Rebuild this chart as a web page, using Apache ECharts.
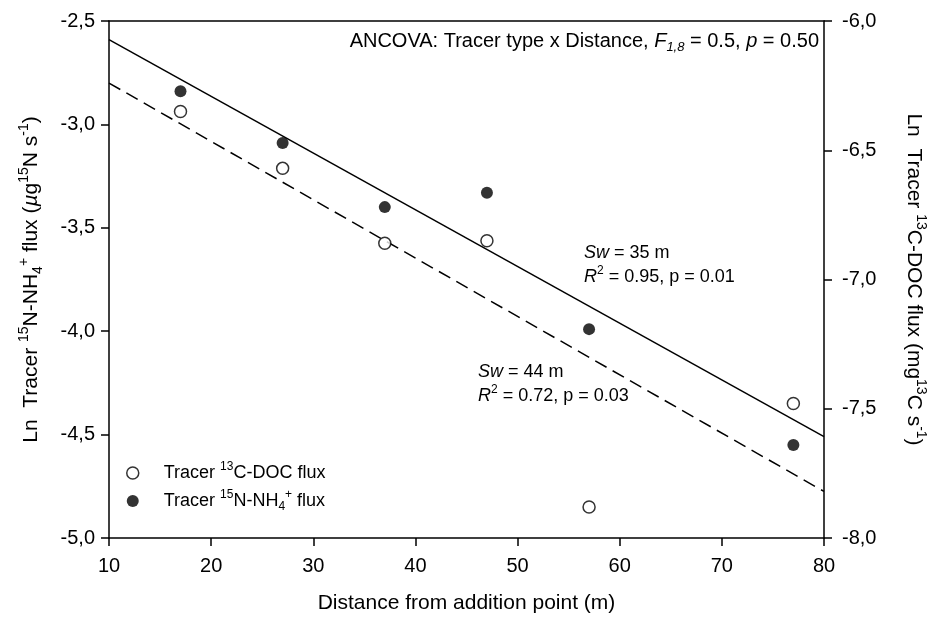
<!DOCTYPE html>
<html>
<head>
<meta charset="utf-8">
<script src="https://cdn.jsdelivr.net/npm/echarts@6/dist/echarts.min.js"></script>
<style>
  html, body { margin: 0; padding: 0; background: #fff; }
  #box { width: 936px; height: 622px; }
</style>
</head>
<body>
<div id="box"></div>
<script>
// distances (m)
var distances = [17, 27, 37, 47, 57, 77];
// Ln tracer 13C-DOC flux (right axis)
var docFlux = [-6.35, -6.57, -6.86, -6.85, -7.88, -7.48];
// Ln tracer 15N-NH4+ flux (left axis)
var nh4Flux = [-2.84, -3.09, -3.40, -3.33, -3.99, -4.55];
// regression lines, end points at x = 10 and x = 80
var fitX = [10, 80];
var nh4Fit = [-2.59, -4.51];
var docFit = [-6.24, -7.82];

var leftTicks = { min: -5, max: -2.5, interval: 0.5 };
var rightTicks = { min: -8, max: -6, interval: 0.5 };
var xTicks = { min: 10, max: 80, interval: 10 };

var FONT = '"Liberation Sans", Arial, sans-serif';
function richSet(size, lh) {
  var small = Math.round(size * 0.65);
  return {
    sup: { fontSize: small, lineHeight: small, verticalAlign: 'top', fontFamily: FONT, color: '#000' },
    sub: { fontSize: small, lineHeight: small, verticalAlign: 'bottom', fontFamily: FONT, color: '#000' },
    it: { fontStyle: 'italic', fontSize: size, lineHeight: lh, fontFamily: FONT, color: '#000' },
    itsub: { fontStyle: 'italic', fontSize: small, lineHeight: small, verticalAlign: 'bottom', fontFamily: FONT, color: '#000' }
  };
}

function pairs(xs, ys) {
  return xs.map(function (x, i) { return [x, ys[i]]; });
}
function comma(v) {
  return v.toFixed(1).replace('.', ',');
}

var legendNames = {
  'Tracer 13C-DOC flux': 'Tracer {sup|13}C-DOC flux',
  'Tracer 15N-NH4+ flux': 'Tracer {sup|15}N-NH{sub|4}{sup|+} flux'
};

var axisLine = { show: true, lineStyle: { color: '#000', width: 1.5 } };
var axisTick = { show: true, inside: false, length: 8, lineStyle: { color: '#000', width: 1.5 } };

var myChart = echarts.init(document.getElementById('box'));

var option = {
  backgroundColor: '#fff',
  animation: false,
  textStyle: { fontFamily: FONT },
  grid: { left: 109, right: 107, top: 21, bottom: 84, containLabel: false },
  legend: {
    orient: 'vertical',
    left: 121,
    top: 456,
    itemWidth: 12,
    itemHeight: 12,
    itemGap: 4,
    icon: 'circle',
    data: [
      { name: 'Tracer 13C-DOC flux', itemStyle: { color: '#fff', borderColor: '#000', borderWidth: 1.5 } },
      { name: 'Tracer 15N-NH4+ flux', itemStyle: { color: '#000', borderColor: '#000', borderWidth: 0 } }
    ],
    formatter: function (name) { return legendNames[name]; },
    textStyle: { fontSize: 18, lineHeight: 24, color: '#000', fontFamily: FONT, padding: [0, 0, 0, 20], rich: richSet(18, 24) }
  },
  xAxis: [{
    type: 'value',
    min: xTicks.min, max: xTicks.max, interval: xTicks.interval,
    name: 'Distance from addition point (m)',
    nameLocation: 'middle',
    nameGap: 55,
    nameTextStyle: { fontSize: 21, color: '#000', fontFamily: FONT },
    axisLine: axisLine, axisTick: axisTick,
    splitLine: { show: false },
    axisLabel: { fontSize: 20, color: '#000', margin: 18, fontFamily: FONT }
  }, {
    type: 'value', position: 'top',
    min: xTicks.min, max: xTicks.max,
    axisLine: axisLine, axisTick: { show: false }, axisLabel: { show: false }, splitLine: { show: false }
  }],
  yAxis: [{
    type: 'value', position: 'left',
    min: leftTicks.min, max: leftTicks.max, interval: leftTicks.interval,
    name: 'Ln  Tracer {sup|15}N-NH{sub|4}{sup|+} flux ({it|µ}g{sup|15}N s{sup|-1})',
    nameLocation: 'middle',
    nameRotate: 90,
    nameGap: 64,
    nameTextStyle: { fontSize: 21, lineHeight: 28, color: '#000', fontFamily: FONT, rich: richSet(21, 28) },
    axisLine: axisLine, axisTick: axisTick,
    splitLine: { show: false },
    axisLabel: { fontSize: 20, color: '#000', margin: 14, fontFamily: FONT, formatter: comma }
  }, {
    type: 'value', position: 'right',
    min: rightTicks.min, max: rightTicks.max, interval: rightTicks.interval,
    name: 'Ln  Tracer {sup|13}C-DOC flux (mg{sup|13}C s{sup|-1})',
    nameLocation: 'middle',
    nameRotate: -90,
    nameGap: 76,
    nameTextStyle: { fontSize: 21, lineHeight: 28, color: '#000', fontFamily: FONT, rich: richSet(21, 28) },
    axisLine: axisLine, axisTick: axisTick,
    splitLine: { show: false },
    axisLabel: { fontSize: 20, color: '#000', margin: 18, fontFamily: FONT, formatter: comma }
  }],
  graphic: [{
    type: 'text', right: 117, top: 28,
    style: {
      text: 'ANCOVA: Tracer type x Distance, {it|F}{itsub|1,8} = 0.5, {it|p} = 0.50',
      font: '20px ' + FONT, fill: '#000', lineHeight: 26, rich: richSet(20, 26)
    }
  }, {
    type: 'text', left: 584, top: 241,
    style: {
      text: '{it|Sw} = 35 m\n{it|R}{sup|2} = 0.95, p = 0.01',
      font: '18px ' + FONT, fill: '#000', lineHeight: 24, rich: richSet(18, 24)
    }
  }, {
    type: 'text', left: 478, top: 360,
    style: {
      text: '{it|Sw} = 44 m\n{it|R}{sup|2} = 0.72, p = 0.03',
      font: '18px ' + FONT, fill: '#000', lineHeight: 24, rich: richSet(18, 24)
    }
  }],
  series: [{
    type: 'line', xAxisIndex: 0, yAxisIndex: 0,
    data: pairs(fitX, nh4Fit),
    showSymbol: false, silent: true, z: 1,
    lineStyle: { color: '#000', width: 1.5, type: 'solid' }
  }, {
    type: 'line', xAxisIndex: 0, yAxisIndex: 1,
    data: pairs(fitX, docFit),
    showSymbol: false, silent: true, z: 1,
    lineStyle: { color: '#000', width: 1.5, type: [13, 7] }
  }, {
    name: 'Tracer 13C-DOC flux',
    type: 'scatter', xAxisIndex: 0, yAxisIndex: 1,
    data: pairs(distances, docFlux),
    symbol: 'circle', symbolSize: 12, z: 3,
    itemStyle: { color: '#fff', borderColor: '#000', borderWidth: 1.5 }
  }, {
    name: 'Tracer 15N-NH4+ flux',
    type: 'scatter', xAxisIndex: 0, yAxisIndex: 0,
    data: pairs(distances, nh4Flux),
    symbol: 'circle', symbolSize: 12, z: 3,
    itemStyle: { color: '#000' }
  }]
};

myChart.setOption(option);
</script>
</body>
</html>
